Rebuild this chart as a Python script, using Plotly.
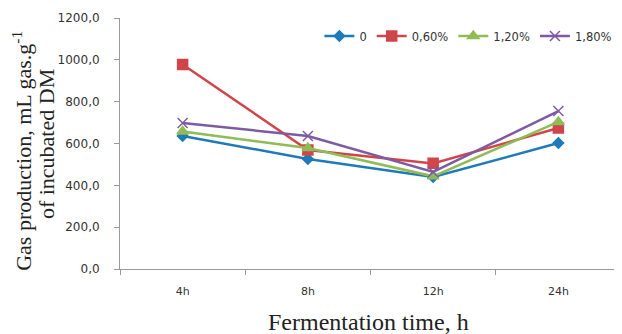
import plotly.graph_objects as go

categories = ["4h", "8h", "12h", "24h"]
series_names = ["0", "0,60%", "1,20%", "1,80%"]
s0 = [636, 526, 440, 602]
s060 = [978, 569, 505, 674]
s120 = [657, 578, 443, 703]
s180 = [698, 636, 464, 755]
yticks = [0, 200, 400, 600, 800, 1000, 1200]
ytick_text = ["0,0", "200,0", "400,0", "600,0", "800,0", "1000,0", "1200,0"]

colors = ["#1f7ab8", "#cf454a", "#8fbc55", "#7f5aa2"]
symbols = ["diamond", "square", "triangle-up", "x-thin-open"]
msizes = [8, 10, 10, 10]

fig = go.Figure()
for name, vals, c, s, ms in zip(series_names, [s0, s060, s120, s180], colors, symbols, msizes):
    fig.add_trace(go.Scatter(
        x=categories, y=vals, name=name, mode="lines+markers",
        line=dict(color=c, width=2.5),
        marker=dict(symbol=s, size=ms, color=c, line=dict(color=c, width=1.5)),
    ))

title_font = dict(family="Liberation Serif", color="#222222")

# page body has an 8px offset; figure sized to the visible area
fig.update_layout(
    width=614, height=326,
    margin=dict(l=112, r=1, t=10, b=65),
    plot_bgcolor="white", paper_bgcolor="white",
    font=dict(family="DejaVu Sans", size=11, color="#333333"),
    showlegend=True,
    legend=dict(orientation="h", x=0.398, y=0.928, xanchor="left", yanchor="middle",
                font=dict(family="DejaVu Sans", size=11.5, color="#333333"),
                itemwidth=30, bgcolor="rgba(0,0,0,0)", tracegroupgap=0),
    xaxis=dict(
        type="category", categoryorder="array", categoryarray=categories,
        range=[-0.5, 3.5], tickson="boundaries", ticks="outside", ticklen=5,
        tickcolor="#999999", showline=True, linecolor="#999999", linewidth=1,
        showgrid=False, zeroline=False, automargin=False,
        tickfont=dict(family="DejaVu Sans", size=11, color="#333333"),
        ticklabelstandoff=12,
    ),
    yaxis=dict(
        range=[0, 1200], tickvals=yticks, ticktext=ytick_text,
        ticks="outside", ticklen=5, tickcolor="#999999",
        showline=True, linecolor="#999999", linewidth=1,
        showgrid=False, zeroline=False, automargin=False,
        tickfont=dict(family="DejaVu Sans", size=12, color="#333333"),
        ticklabelstandoff=12,
    ),
    annotations=[
        dict(text="Fermentation time, h", x=0.496, y=-0.211, xref="paper", yref="paper",
             xanchor="center", yanchor="middle", showarrow=False,
             font=dict(size=24, **title_font)),
        dict(text="Gas production, mL gas.g<sup>-1</sup>", x=-0.196, y=0.47, xref="paper", yref="paper",
             xanchor="center", yanchor="middle", showarrow=False, textangle=-90,
             font=dict(size=22, **title_font)),
        dict(text="of incubated DM", x=-0.148, y=0.497, xref="paper", yref="paper",
             xanchor="center", yanchor="middle", showarrow=False, textangle=-90,
             font=dict(size=22, **title_font)),
    ],
)

fig.write_html("out.html")
